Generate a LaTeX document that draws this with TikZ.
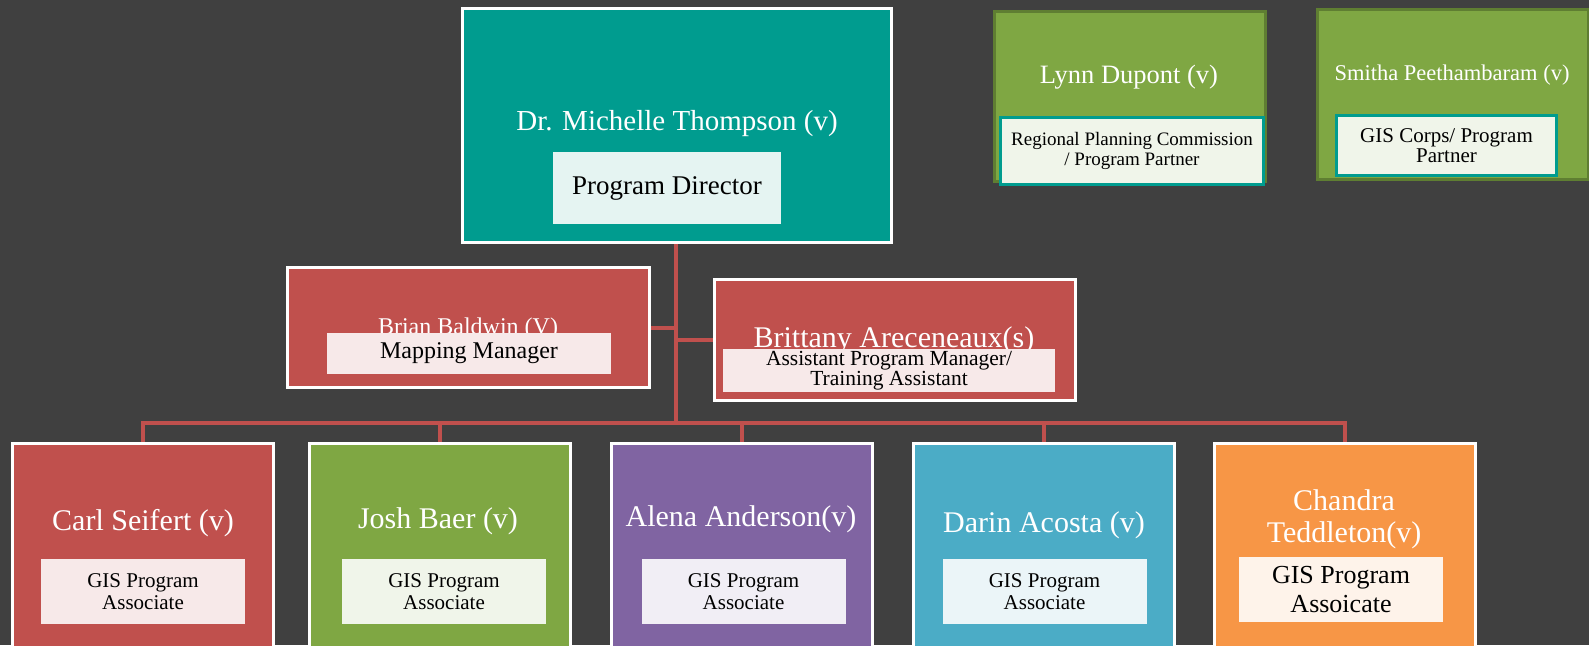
\documentclass[tikz,border=0pt]{standalone}
\usepackage{fontspec}
\setmainfont{Liberation Serif}
\definecolor{bgc}{HTML}{404040}
\definecolor{tealc}{HTML}{009C8F}
\definecolor{tealin}{HTML}{E5F4F2}
\definecolor{redc}{HTML}{C0504D}
\definecolor{redin}{HTML}{F7E9E9}
\definecolor{greenc}{HTML}{7FA743}
\definecolor{greenin}{HTML}{F0F5EA}
\definecolor{greendark}{HTML}{5F7E32}
\definecolor{purplec}{HTML}{8064A2}
\definecolor{purplein}{HTML}{F1EEF5}
\definecolor{aquac}{HTML}{4BACC6}
\definecolor{aquain}{HTML}{EBF5F8}
\definecolor{orangec}{HTML}{F79646}
\definecolor{orangein}{HTML}{FEF3EA}
\pgfdeclarelayer{back}
\pgfdeclarelayer{lines}
\pgfsetlayers{back,lines,main}
\newcommand{\fs}[2]{\fontsize{#1}{#2}\selectfont}
\begin{document}
\begin{tikzpicture}[x=1pt,y=-1pt,
  box/.style={draw=white,line width=3pt,inner sep=0pt,outer sep=0pt},
  pbox/.style={draw=greendark,line width=3pt,inner sep=0pt,outer sep=0pt,fill=greenc},
  inbox/.style={inner sep=0pt,outer sep=0pt,align=center,text=black},
  pin/.style={inbox,draw=tealc,line width=3pt,fill=greenin},
  ttl/.style={inner sep=0pt,text=white,align=center},
  conn/.style={draw=redc,line width=4pt},
  bw/.style={minimum width=261,minimum height=215},
  iw/.style={minimum width=204,minimum height=65,font=\fs{21}{22}}]
\useasboundingbox (0,0) rectangle (1589,645);
\begin{pgfonlayer}{back}
\fill[bgc] (0,0) rectangle (1589,645);
\end{pgfonlayer}
\clip (0,0) rectangle (1589,645);

% top
\node[box,fill=tealc,minimum width=429,minimum height=234] (top) at (677,125.5) {};
\node[ttl,anchor=base,font=\fs{29}{32}] (top-t) at (677,130) {Dr. Michelle Thompson (v)};
\node[inbox,fill=tealin,minimum width=228,minimum height=72,font=\fs{27}{30}] (top-s) at (667,188) {Program Director};

% partners
\node[pbox,minimum width=271,minimum height=170] (lynn) at (1130,96.5) {};
\node[ttl,anchor=base,font=\fs{26.5}{30}] (lynn-t) at (1129,83) {Lynn Dupont (v)};
\node[pin,minimum width=263,minimum height=67,font=\fs{19}{20}] (lynn-s) at (1132,151) {Regional Planning Commission\\/ Program Partner};

\node[pbox,minimum width=271,minimum height=170] (smitha) at (1453,94.5) {};
\node[ttl,anchor=base,font=\fs{22.5}{26}] (smitha-t) at (1452,80) {Smitha Peethambaram (v)};
\node[pin,minimum width=220,minimum height=60,font=\fs{21}{20}] (smitha-s) at (1446.5,145.5) {GIS Corps/ Program\\Partner};

% middle
\node[box,fill=redc,minimum width=362,minimum height=120] (brian) at (468.5,327.5) {};
\node[ttl,anchor=base,font=\fs{24}{26}] (brian-t) at (468,334) {Brian Baldwin (V)};
\node[inbox,fill=redin,minimum width=284,minimum height=41,font=\fs{24}{26}] (brian-s) at (469,353.5) {Mapping Manager};

\node[box,fill=redc,minimum width=361,minimum height=121] (britt) at (895,340) {};
\node[ttl,anchor=base,font=\fs{30}{32}] (britt-t) at (894,347) {Brittany Areceneaux(s)};
\node[inbox,fill=redin,minimum width=332,minimum height=43,font=\fs{21.5}{20}] (britt-s) at (889,370.5) {Assistant Program Manager/\\Training Assistant};

% bottom row
\node[box,bw,fill=redc] (carl) at (143,551) {};
\node[ttl,anchor=base,font=\fs{30}{32}] (carl-t) at (143,530) {Carl Seifert (v)};
\node[inbox,iw,fill=redin] (carl-s) at (143,591.5) {GIS Program\\Associate};

\node[box,bw,fill=greenc] (josh) at (440,551) {};
\node[ttl,anchor=base,font=\fs{30}{32}] (josh-t) at (438,528) {Josh Baer (v)};
\node[inbox,iw,fill=greenin] (josh-s) at (444,591.5) {GIS Program\\Associate};

\node[box,bw,fill=purplec] (alena) at (742,551) {};
\node[ttl,anchor=base,font=\fs{30}{32}] (alena-t) at (741,526) {Alena Anderson(v)};
\node[inbox,iw,fill=purplein] (alena-s) at (743.5,591.5) {GIS Program\\Associate};

\node[box,bw,fill=aquac] (darin) at (1044,551) {};
\node[ttl,anchor=base,font=\fs{30}{32}] (darin-t) at (1044,532) {Darin Acosta (v)};
\node[inbox,iw,fill=aquain] (darin-s) at (1044.5,591.5) {GIS Program\\Associate};

\node[box,bw,fill=orangec] (chandra) at (1345,551) {};
\node[ttl,font=\fs{30}{32}] (chandra-t) at (1344,519) {Chandra\\Teddleton(v)};
\node[inbox,fill=orangein,minimum width=204,minimum height=65,font=\fs{26}{29}] (chandra-s) at (1341,589.5) {GIS Program\\Assoicate};

% connectors
\coordinate (bus) at (676,423);
\begin{pgfonlayer}{lines}
\draw[conn] (top.south -| bus) -- (bus);
\draw[conn] (brian.east) -- (brian.east -| bus);
\draw[conn] (britt.west) -- (britt.west -| bus);
\foreach \n in {carl,josh,alena,darin,chandra}
  \draw[conn] (bus) -| (\n.north);
\end{pgfonlayer}
\end{tikzpicture}
\end{document}
